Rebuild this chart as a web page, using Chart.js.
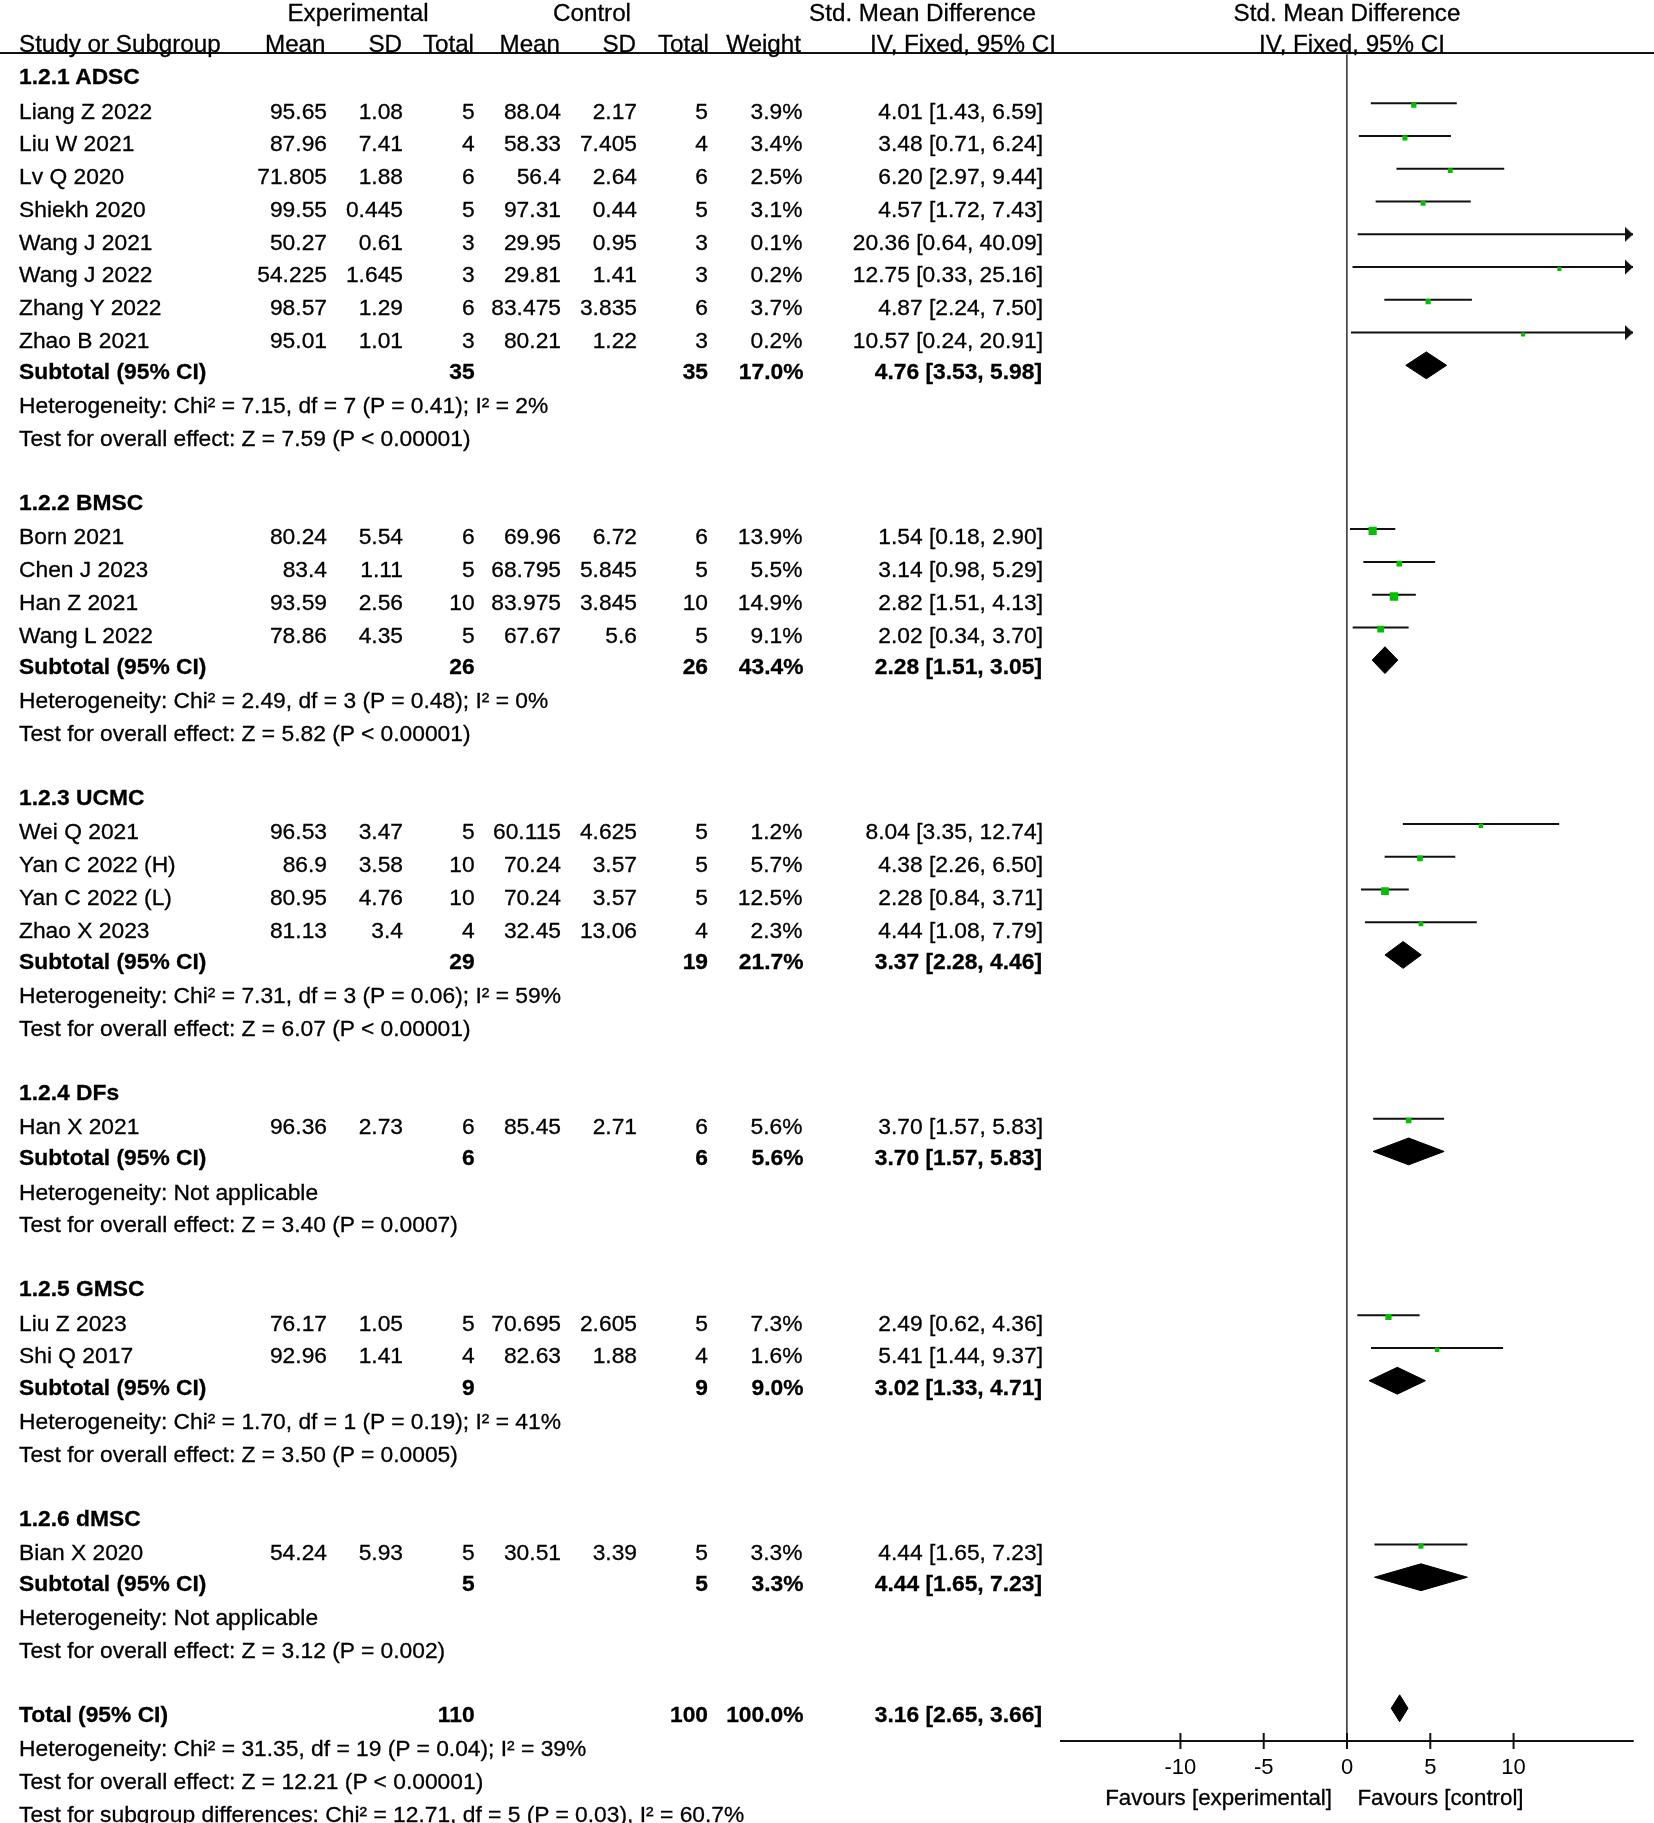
<!DOCTYPE html>
<html>
<head>
<meta charset="utf-8">
<script src="https://cdn.jsdelivr.net/npm/chart.js@4.4.0/dist/chart.umd.min.js"></script>
<style>
html,body{margin:0;padding:0;background:#fff;overflow:hidden;}
#wrap{position:relative;width:1654px;height:1823px;}
#chartBox{position:absolute;left:0;top:0;width:1654px;height:1823px;}
#txt{position:absolute;left:0;top:0;width:1654px;height:1823px;pointer-events:none;}
.t{position:absolute;white-space:nowrap;font-family:"Liberation Sans",Arial,sans-serif;color:#000;-webkit-text-stroke:0.3px #000;}
#rule{position:absolute;left:0;width:1654px;height:2px;background:#111;}
</style>
</head>
<body>
<div id="wrap">
  <div id="chartBox"><canvas id="c"></canvas></div>
  <div id="txt"><div id="rule"></div></div>
</div>
<script>
// ---------------- DATA ----------------
const groupNames = ['1.2.1 ADSC','1.2.2 BMSC','1.2.3 UCMC','1.2.4 DFs','1.2.5 GMSC','1.2.6 dMSC'];
const studyNames = ['Liang Z 2022','Liu W 2021','Lv Q 2020','Shiekh 2020','Wang J 2021','Wang J 2022','Zhang Y 2022','Zhao B 2021',
  'Born 2021','Chen J 2023','Han Z 2021','Wang L 2022',
  'Wei Q 2021','Yan C 2022 (H)','Yan C 2022 (L)','Zhao X 2023',
  'Han X 2021',
  'Liu Z 2023','Shi Q 2017',
  'Bian X 2020'];
const studyGroup = [0,0,0,0,0,0,0,0, 1,1,1,1, 2,2,2,2, 3, 4,4, 5];
const expMean = [95.65,87.96,71.805,99.55,50.27,54.225,98.57,95.01, 80.24,83.4,93.59,78.86, 96.53,86.9,80.95,81.13, 96.36, 76.17,92.96, 54.24];
const expSD   = [1.08,7.41,1.88,0.445,0.61,1.645,1.29,1.01, 5.54,1.11,2.56,4.35, 3.47,3.58,4.76,3.4, 2.73, 1.05,1.41, 5.93];
const expN    = [5,4,6,5,3,3,6,3, 6,5,10,5, 5,10,10,4, 6, 5,4, 5];
const ctlMean = [88.04,58.33,56.4,97.31,29.95,29.81,83.475,80.21, 69.96,68.795,83.975,67.67, 60.115,70.24,70.24,32.45, 85.45, 70.695,82.63, 30.51];
const ctlSD   = [2.17,7.405,2.64,0.44,0.95,1.41,3.835,1.22, 6.72,5.845,3.845,5.6, 4.625,3.57,3.57,13.06, 2.71, 2.605,1.88, 3.39];
const ctlN    = [5,4,6,5,3,3,6,3, 6,5,10,5, 5,5,5,4, 6, 5,4, 5];
const weight  = [3.9,3.4,2.5,3.1,0.1,0.2,3.7,0.2, 13.9,5.5,14.9,9.1, 1.2,5.7,12.5,2.3, 5.6, 7.3,1.6, 3.3];
const smd     = [4.01,3.48,6.20,4.57,20.36,12.75,4.87,10.57, 1.54,3.14,2.82,2.02, 8.04,4.38,2.28,4.44, 3.70, 2.49,5.41, 4.44];
const ciLow   = [1.43,0.71,2.97,1.72,0.64,0.33,2.24,0.24, 0.18,0.98,1.51,0.34, 3.35,2.26,0.84,1.08, 1.57, 0.62,1.44, 1.65];
const ciHigh  = [6.59,6.24,9.44,7.43,40.09,25.16,7.50,20.91, 2.90,5.29,4.13,3.70, 12.74,6.50,3.71,7.79, 5.83, 4.36,9.37, 7.23];

const subExpN   = [35,26,29,6,9,5];
const subCtlN   = [35,26,19,6,9,5];
const subWeight = [17.0,43.4,21.7,5.6,9.0,3.3];
const subSmd    = [4.76,2.28,3.37,3.70,3.02,4.44];
const subLow    = [3.53,1.51,2.28,1.57,1.33,1.65];
const subHigh   = [5.98,3.05,4.46,5.83,4.71,7.23];
const subHet = ['Heterogeneity: Chi² = 7.15, df = 7 (P = 0.41); I² = 2%',
  'Heterogeneity: Chi² = 2.49, df = 3 (P = 0.48); I² = 0%',
  'Heterogeneity: Chi² = 7.31, df = 3 (P = 0.06); I² = 59%',
  'Heterogeneity: Not applicable',
  'Heterogeneity: Chi² = 1.70, df = 1 (P = 0.19); I² = 41%',
  'Heterogeneity: Not applicable'];
const subTest = ['Test for overall effect: Z = 7.59 (P < 0.00001)',
  'Test for overall effect: Z = 5.82 (P < 0.00001)',
  'Test for overall effect: Z = 6.07 (P < 0.00001)',
  'Test for overall effect: Z = 3.40 (P = 0.0007)',
  'Test for overall effect: Z = 3.50 (P = 0.0005)',
  'Test for overall effect: Z = 3.12 (P = 0.002)'];

const totalExpN = 110, totalCtlN = 100, totalWeight = 100.0;
const totalSmd = 3.16, totalLow = 2.65, totalHigh = 3.66;
const totalHet = 'Heterogeneity: Chi² = 31.35, df = 19 (P = 0.04); I² = 39%';
const totalTest = 'Test for overall effect: Z = 12.21 (P < 0.00001)';
const subgroupTest = 'Test for subgroup differences: Chi² = 12.71, df = 5 (P = 0.03), I² = 60.7%';

const tickValues = [-10,-5,0,5,10];
const axisLabelLeft = 'Favours [experimental]';
const axisLabelRight = 'Favours [control]';

// ---------------- LAYOUT (rows) ----------------
const studyRow = [], subRow = [], hetRow = [], testRow = [], groupRow = [];
let r = 0;
groupNames.forEach((g, gi) => {
  groupRow.push(r); r++;
  studyNames.forEach((n, i) => { if (studyGroup[i] === gi) { studyRow[i] = r; r++; } });
  subRow.push(r); r++;
  hetRow.push(r); r++;
  testRow.push(r); r++;
  r++;
});
const totalRow = r;

const X_MIN = -17.17, X_MAX = 17.17;
const Y_MIN = -0.5, Y_MAX = 51;
const DH = 0.41;        // diamond half height (rows)
const SQ_DY = 0.055;    // square slight offset
const TEXT_DY = 5.6;    // text cap-centre offset from plot row (px)
const REG_DY = 1.5;     // extra offset of regular-weight rows
const GREEN = '#00c000';
const INK = '#111';
const FONT = '"Liberation Sans", Arial, sans-serif';

function diamond(est, lo, hi, row) {
  return [{x: lo, y: row}, {x: est, y: row - DH}, {x: hi, y: row}, {x: est, y: row + DH}, {x: lo, y: row}];
}

// arrow head image (tip at image centre)
const arrowImg = document.createElement('canvas');
arrowImg.width = 18; arrowImg.height = 16;
(function () {
  const a = arrowImg.getContext('2d');
  a.fillStyle = INK;
  a.beginPath(); a.moveTo(1, 0.5); a.lineTo(9, 8); a.lineTo(1, 15.5); a.closePath(); a.fill();
})();

const datasets = [];
// squares
datasets.push({
  type: 'line', showLine: false,
  data: studyNames.map((n, i) => ({x: smd[i], y: studyRow[i] + SQ_DY})),
  pointStyle: 'rect',
  pointRadius: weight.map(w => (4 + 0.3 * w) / Math.SQRT2),
  pointBackgroundColor: GREEN, pointBorderColor: GREEN, pointBorderWidth: 0
});
// arrows for truncated CIs
const arrowData = [];
studyNames.forEach((n, i) => { if (ciHigh[i] > X_MAX) arrowData.push({x: X_MAX, y: studyRow[i]}); });
datasets.push({
  type: 'line', showLine: false, data: arrowData, pointStyle: arrowImg,
  pointRadius: 8, clip: false
});
// axis tick marks (crossing the axis)
datasets.push({
  type: 'line', showLine: false, data: tickValues.map(v => ({x: v, y: Y_MAX})),
  pointStyle: 'line', rotation: 90, pointRadius: 8,
  pointBorderColor: INK, pointBorderWidth: 2, clip: false
});
// diamonds
groupNames.forEach((g, gi) => {
  datasets.push({
    type: 'line', data: diamond(subSmd[gi], subLow[gi], subHigh[gi], subRow[gi]),
    fill: 'shape', backgroundColor: '#000', borderColor: '#000', borderWidth: 1,
    pointRadius: 0, tension: 0
  });
});
datasets.push({
  type: 'line', data: diamond(totalSmd, totalLow, totalHigh, totalRow),
  fill: 'shape', backgroundColor: '#000', borderColor: '#000', borderWidth: 1,
  pointRadius: 0, tension: 0
});
// CI lines
studyNames.forEach((n, i) => {
  datasets.push({
    type: 'line', data: [{x: ciLow[i], y: studyRow[i]}, {x: ciHigh[i], y: studyRow[i]}],
    borderColor: INK, borderWidth: 2, pointRadius: 0, fill: false
  });
});

const chart = new Chart(document.getElementById('c'), {
  type: 'line',
  data: {datasets},
  options: {
    responsive: true, maintainAspectRatio: false, animation: false, events: [],
    layout: {padding: {left: 1061, right: 21, top: 54.2, bottom: 0}},
    plugins: {legend: {display: false}, tooltip: {enabled: false}},
    scales: {
      x: {
        type: 'linear', min: X_MIN, max: X_MAX,
        afterBuildTicks: s => { s.ticks = tickValues.map(v => ({value: v})); },
        afterFit: s => { s.height = 82; },
        ticks: {font: {family: FONT, size: 22}, color: '#000', padding: 14, autoSkip: false, maxRotation: 0,
          callback: v => String(v)},
        grid: {drawTicks: false, lineWidth: 1.7,
          color: c => (c.tick && c.tick.value === 0) ? '#444' : 'rgba(0,0,0,0)'},
        border: {display: true, color: INK, width: 2}
      },
      y: {type: 'linear', display: false, min: Y_MIN, max: Y_MAX, reverse: true}
    }
  }
});

// ---------------- TEXT ----------------
const txt = document.getElementById('txt');
const ys = chart.scales.y, xs = chart.scales.x;
function rowY(row) { return ys.getPixelForValue(row) + TEXT_DY; }
function put(text, x, yc, align, size, bold) {
  const d = document.createElement('div');
  d.className = 't';
  d.textContent = text;
  d.style.fontSize = size + 'px';
  d.style.fontWeight = bold ? 'bold' : 'normal';
  const L = Math.round(size * 1.3);
  d.style.lineHeight = L + 'px';
  const off = (L - 1.117 * size) / 2 + 0.547 * size;
  d.style.top = (yc - off) + 'px';
  if (align === 'left') d.style.left = x + 'px';
  else if (align === 'right') d.style.right = (1654 - x) + 'px';
  else { d.style.left = x + 'px'; d.style.transform = 'translateX(-50%)'; }
  txt.appendChild(d);
}
const FS = 22.8, HS = 24.2;
const COL = {name: 19, expMean: 327, expSD: 403, expN: 474.6, ctlMean: 561, ctlSD: 637, ctlN: 708, weight: 802.5, ci: 1043};
const zeroX = xs.getPixelForValue(0);

document.getElementById('rule').style.top = (ys.top - 2) + 'px';

// headers
const h1 = rowY(-1.96), h2 = rowY(-1.02);
put('Experimental', 358, h1, 'center', HS, false);
put('Control', 592, h1, 'center', HS, false);
put('Std. Mean Difference', 922.5, h1, 'center', HS, false);
put('Std. Mean Difference', zeroX, h1, 'center', HS, false);
put('Study or Subgroup', 19, h2, 'left', HS, false);
put('Mean', 325.5, h2, 'right', HS, false);
put('SD', 402, h2, 'right', HS, false);
put('Total', 474, h2, 'right', HS, false);
put('Mean', 560, h2, 'right', HS, false);
put('SD', 636, h2, 'right', HS, false);
put('Total', 709, h2, 'right', HS, false);
put('Weight', 801, h2, 'right', HS, false);
put('IV, Fixed, 95% CI', 963, h2, 'center', HS, false);
put('IV, Fixed, 95% CI', zeroX + 5, h2, 'center', HS, false);

const ciText = (e, l, h) => e.toFixed(2) + ' [' + l.toFixed(2) + ', ' + h.toFixed(2) + ']';

groupNames.forEach((g, gi) => {
  put(g, COL.name, rowY(groupRow[gi]), 'left', FS, true);
  studyNames.forEach((n, i) => {
    if (studyGroup[i] !== gi) return;
    const y = rowY(studyRow[i]) + REG_DY;
    put(n, COL.name, y, 'left', FS, false);
    put(String(expMean[i]), COL.expMean, y, 'right', FS, false);
    put(String(expSD[i]), COL.expSD, y, 'right', FS, false);
    put(String(expN[i]), COL.expN, y, 'right', FS, false);
    put(String(ctlMean[i]), COL.ctlMean, y, 'right', FS, false);
    put(String(ctlSD[i]), COL.ctlSD, y, 'right', FS, false);
    put(String(ctlN[i]), COL.ctlN, y, 'right', FS, false);
    put(weight[i].toFixed(1) + '%', COL.weight, y, 'right', FS, false);
    put(ciText(smd[i], ciLow[i], ciHigh[i]), COL.ci, y, 'right', FS, false);
  });
  const ys2 = rowY(subRow[gi]);
  put('Subtotal (95% CI)', COL.name, ys2, 'left', FS, true);
  put(String(subExpN[gi]), COL.expN, ys2, 'right', FS, true);
  put(String(subCtlN[gi]), COL.ctlN, ys2, 'right', FS, true);
  put(subWeight[gi].toFixed(1) + '%', COL.weight + 1, ys2, 'right', FS, true);
  put(ciText(subSmd[gi], subLow[gi], subHigh[gi]), COL.ci - 1, ys2, 'right', FS, true);
  put(subHet[gi], COL.name, rowY(hetRow[gi]) + REG_DY, 'left', FS, false);
  put(subTest[gi], COL.name, rowY(testRow[gi]) + REG_DY, 'left', FS, false);
});
const yt = rowY(totalRow);
put('Total (95% CI)', COL.name, yt, 'left', FS, true);
put(String(totalExpN), COL.expN, yt, 'right', FS, true);
put(String(totalCtlN), COL.ctlN, yt, 'right', FS, true);
put(totalWeight.toFixed(1) + '%', COL.weight + 1, yt, 'right', FS, true);
put(ciText(totalSmd, totalLow, totalHigh), COL.ci - 1, yt, 'right', FS, true);
put(totalHet, COL.name, rowY(totalRow + 1) + REG_DY, 'left', FS, false);
put(totalTest, COL.name, rowY(totalRow + 2) + REG_DY, 'left', FS, false);
put(subgroupTest, COL.name, rowY(totalRow + 3) + REG_DY, 'left', FS, false);

// axis direction labels
put(axisLabelLeft, zeroX - 15, 1797, 'right', 22.3, false);
put(axisLabelRight, zeroX + 10.5, 1797, 'left', 22.3, false);
</script>
</body>
</html>
